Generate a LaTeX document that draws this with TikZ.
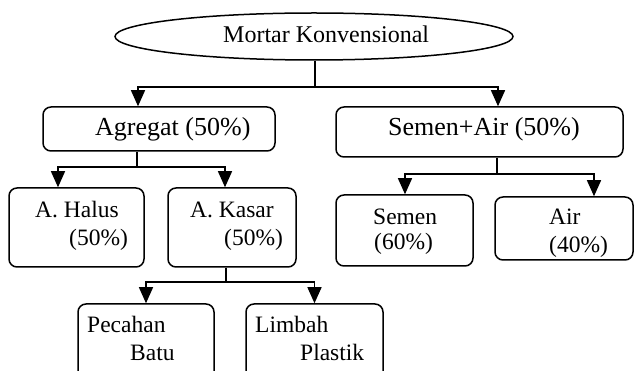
\documentclass[tikz,border=0pt]{standalone}
\usepackage{fontspec}
\setmainfont{Liberation Serif}
\usetikzlibrary{shapes.geometric,arrows.meta}
\tikzset{
  boxn/.style={draw,line width=1.5pt,rounded corners=8pt,inner sep=0pt,minimum width=#1},
  txt/.style={inner sep=0pt,anchor=base west},
  big/.style={font=\fontsize{26}{30}\selectfont},
  med/.style={font=\fontsize{24}{28}\selectfont},
  sml/.style={font=\fontsize{23.5}{27}\selectfont},
  conn/.style={line width=1.3pt},
  arr/.style={line width=1.3pt,-{Triangle[width=14pt,length=16pt]}}
}
\begin{document}
\begin{tikzpicture}[x=1pt,y=-1pt]
\clip (0,0) rectangle (635,371);
\fill[white] (0,0) rectangle (635,371);
% ellipse
\node[draw,ellipse,line width=1.5pt,minimum width=398pt,minimum height=47pt,inner sep=0pt] (ell) at (314,36.5) {};
\node[txt,med] (tell) at (223,43) {Mortar Konvensional};
% boxes
\node[boxn=232pt,minimum height=44pt] (agr) at (159,129) {};
\node[boxn=287pt,minimum height=50pt] (sa) at (479.5,132) {};
\node[boxn=135pt,minimum height=79pt] (hal) at (76.5,227.5) {};
\node[boxn=128pt,minimum height=79pt] (kas) at (232,227.5) {};
\node[boxn=137pt,minimum height=71pt] (sem) at (404.5,230.5) {};
\node[boxn=138pt,minimum height=63pt] (air) at (564,228.5) {};
\node[boxn=136pt,minimum height=81pt] (pec) at (146,344.5) {};
\node[boxn=137pt,minimum height=81pt] (lim) at (314.5,344.5) {};
% texts
\node[txt,big] (tagr) at (95,136) {Agregat (50\%)};
\node[txt,big] (tsa) at (388,136) {Semen+Air (50\%)};
\node[txt,sml] (thal1) at (35,218) {A. Halus};
\node[txt,sml] (thal2) at (69,246) {(50\%)};
\node[txt,sml] (tkas1) at (190,218) {A. Kasar};
\node[txt,sml] (tkas2) at (224,246) {(50\%)};
\node[txt,sml] (tsem1) at (373,225) {Semen};
\node[txt,sml] (tsem2) at (374,250) {(60\%)};
\node[txt,sml] (tair1) at (549,225) {Air};
\node[txt,sml] (tair2) at (549,253) {(40\%)};
\node[txt,sml] (tpec1) at (87,333) {Pecahan};
\node[txt,sml] (tpec2) at (130,361) {Batu};
\node[txt,sml] (tlim1) at (255,333) {Limbah};
\node[txt,sml] (tlim2) at (300,361) {Plastik};
% junctions
\coordinate (j1) at (315,87);
\coordinate (j2) at (137,167);
\coordinate (j3) at (497,174);
\coordinate (j4) at (226,282);
% connectors
\draw[conn] (j1 |- ell.south) -- (j1);
\draw[arr] (j1) -| ([xshift=-21pt]agr.north);
\draw[arr] (j1) -| ([xshift=18.5pt]sa.north);
\draw[conn] (j2 |- agr.south) -- (j2);
\draw[arr] (j2) -| ([xshift=-18.5pt]hal.north);
\draw[arr] (j2) -| ([xshift=-7pt]kas.north);
\draw[conn] (j3 |- sa.south) -- (j3);
\draw[arr] (j3) -| ([xshift=0.5pt]sem.north);
\draw[arr] (j3) -| ([xshift=30pt]air.north);
\draw[conn] (j4 |- kas.south) -- (j4);
\draw[arr] (j4) -| (pec.north);
\draw[arr] (j4) -| (lim.north);
\end{tikzpicture}
\end{document}
